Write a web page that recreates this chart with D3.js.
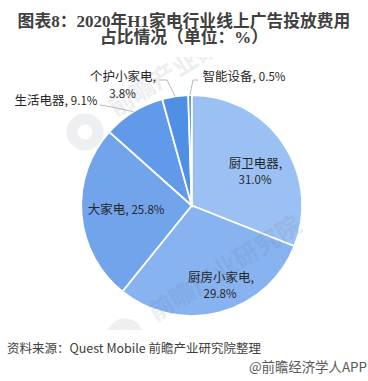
<!DOCTYPE html>
<html>
<head>
<meta charset="utf-8">
<script src="https://cdn.jsdelivr.net/npm/d3@7"></script>
<style>
  html, body { margin: 0; padding: 0; background: #fff; }
  text { font-family: "Noto Sans CJK SC", "DejaVu Sans", sans-serif; }
</style>
</head>
<body>
<svg id="chart" width="368" height="381"></svg>
<script>
const categories = ['厨卫电器', '厨房小家电', '大家电', '生活电器', '个护小家电', '智能设备']
const shares = [31.0, 29.8, 25.8, 9.1, 3.8, 0.5]
const colors = ['#9bc1f4', '#87b3f1', '#72a4ec', '#619ae9', '#4f8fe5', '#3f83de']
const titleLines = ['图表8：2020年H1家电行业线上广告投放费用', '占比情况（单位：%）']
const sourceText = '资料来源：Quest Mobile 前瞻产业研究院整理'
const creditText = '@前瞻经济学人APP'
const watermarkText = '前瞻产业研究院'

const svg = d3.select('#chart')
const cx = 191.7, cy = 205.5, radius = 110.5
const fmt = v => v.toFixed(1) + '%'

// title digits and latin are a serif bold in the original
titleLines.forEach((line, i) => {
  const t = svg.append('text')
    .attr('x', 184)
    .attr('y', 27 + i * 16)
    .attr('text-anchor', 'middle')
    .attr('font-weight', 'bold')
    .attr('fill', '#404040')
  t.selectAll('tspan').data(line.match(/[0-9A-Z%]+|[^0-9A-Z%]+/g)).enter().append('tspan')
    .attr('font-size', d => /^[0-9A-Z%]+$/.test(d) ? 17 : 16.8)
    .style('font-family', d => /^[0-9A-Z%]+$/.test(d) ? '"Liberation Serif", serif' : null)
    .text(d => d)
})

const pie = d3.pie().sort(null)
const arc = d3.arc().innerRadius(0).outerRadius(radius)
const arcs = pie(shares)

const g = svg.append('g').attr('transform', `translate(${[cx, cy]})`)

g.selectAll('.slice').data(arcs).enter().append('path')
  .attr('class', 'slice')
  .attr('d', arc)
  .attr('fill', (_, i) => colors[i])
  .attr('stroke', '#fff')
  .attr('stroke-width', 1.8)

// watermark goes over the slices but under the labels
svg.append('clipPath').attr('id', 'wmClip')
  .append('rect').attr('x', 0).attr('y', 57).attr('width', 368).attr('height', 273)

const wm = svg.append('g').attr('clip-path', 'url(#wmClip)')
const marks = [
  { x: 186, y: 65, lx: 85, ly: 132 },
  { x: 226, y: 270, lx: 125, ly: 337 }
]
wm.selectAll('.wm').data(marks).enter().append('text')
  .attr('class', 'wm')
  .attr('transform', d => `translate(${[d.x, d.y]}) rotate(-32)`)
  .attr('text-anchor', 'middle')
  .attr('dominant-baseline', 'middle')
  .attr('font-size', 25)
  .attr('font-weight', 'bold')
  .attr('fill', '#5a6478')
  .attr('opacity', 0.1)
  .text(watermarkText)
wm.selectAll('.logo').data(marks).enter().append('circle')
  .attr('class', 'logo')
  .attr('cx', d => d.lx)
  .attr('cy', d => d.ly)
  .attr('r', 13)
  .attr('fill', 'none')
  .attr('stroke', '#5a6478')
  .attr('stroke-width', 11)
  .attr('opacity', 0.1)

// digits are a touch smaller than the Chinese text in the original
const putLabel = (parent, str, x, y) => {
  const t = parent.append('text')
    .attr('x', x)
    .attr('y', y)
    .attr('text-anchor', 'middle')
    .attr('fill', '#262626')
  t.selectAll('tspan').data(str.match(/[\d.%]+|[^\d.%]+/g)).enter().append('tspan')
    .attr('font-size', d => /^[\d.%]+$/.test(d) ? 11.5 : 12.5)
    .text(d => d)
}

const labels = [
  { i: 0, rows: [[0, 167.5], [1, 183.5]], xs: [255.5, 255] },
  { i: 1, rows: [[0, 282], [1, 298]], xs: [221, 220] },
  { i: 2, rows: [[2, 214]], xs: [126] },
  { i: 3, rows: [[2, 105]], xs: [56] },
  { i: 4, rows: [[0, 81], [1, 98]], xs: [123, 122.5] },
  { i: 5, rows: [[2, 81]], xs: [244] }
]
labels.forEach(l => {
  const name = categories[l.i], val = fmt(shares[l.i])
  l.rows.forEach(([kind, y], k) => {
    const str = kind === 0 ? name + ',' : kind === 1 ? val : name + ', ' + val
    putLabel(svg, str, l.xs[k], y)
  })
})

// leader lines start on the rim of their slice
const rim = i => {
  const mid = (arcs[i].startAngle + arcs[i].endAngle) / 2
  return [cx + Math.sin(mid) * radius, cy - Math.cos(mid) * radius]
}
const leaders = [
  { i: 3, elbow: [[112, 107], [100, 105]] },
  { i: 4, elbow: [[167, 80], [159, 80]] },
  { i: 5, elbow: [[193, 80], [198, 80]] }
]
svg.selectAll('.leader').data(leaders).enter().append('path')
  .attr('class', 'leader')
  .attr('d', d => d3.line()([rim(d.i), ...d.elbow]))
  .attr('fill', 'none')
  .attr('stroke', '#a6a6a6')
  .attr('stroke-width', 0.8)

svg.append('text')
  .attr('x', 7).attr('y', 353)
  .attr('font-size', 12.5)
  .attr('fill', '#404040')
  .text(sourceText)

svg.append('text')
  .attr('x', 367).attr('y', 372)
  .attr('text-anchor', 'end')
  .attr('font-size', 13.4)
  .attr('fill', '#595959')
  .text(creditText)
</script>
</body>
</html>
